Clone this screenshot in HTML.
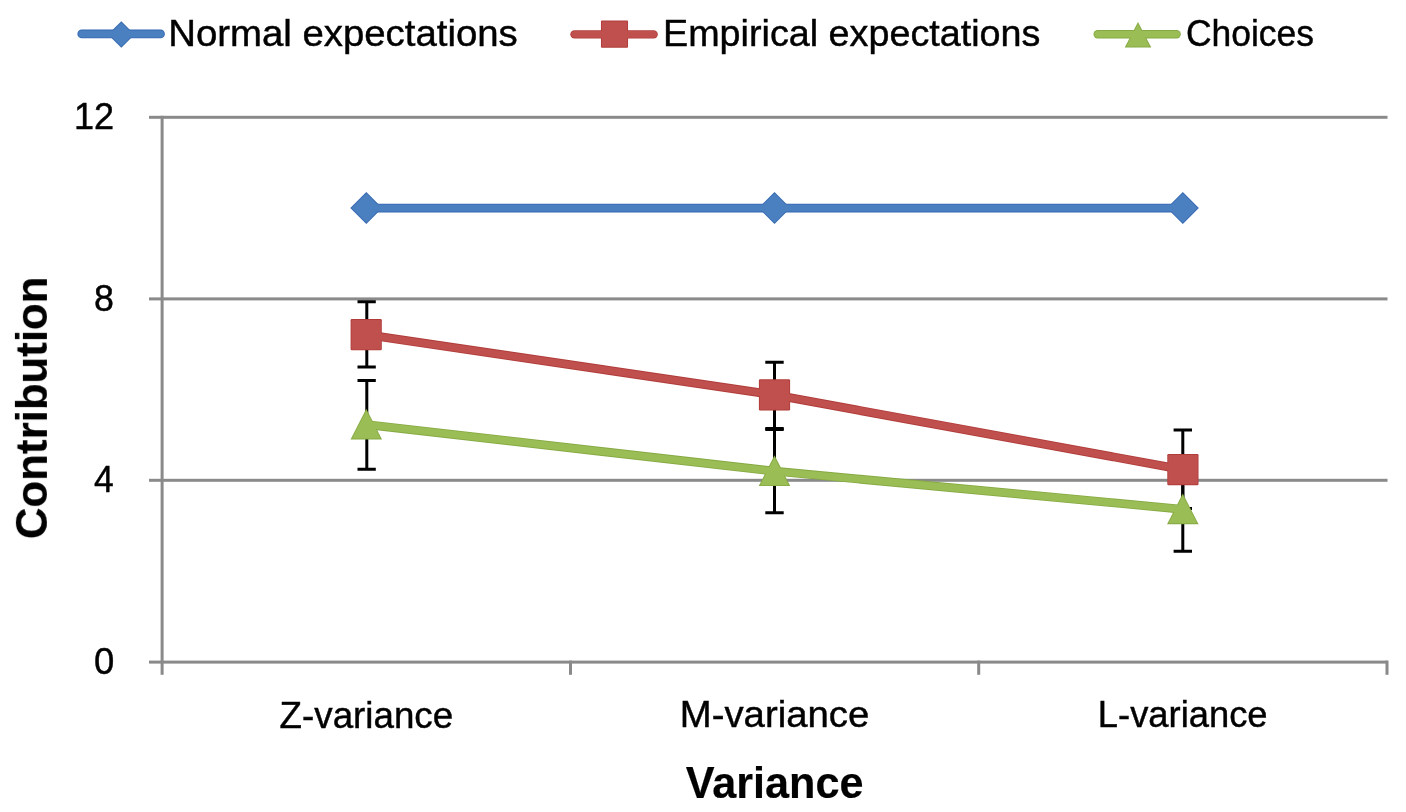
<!DOCTYPE html>
<html><head><meta charset="utf-8">
<style>
html,body{margin:0;padding:0;background:#fff;}
body{width:1406px;height:812px;overflow:hidden;}
svg{display:block;}
.t{opacity:0.999;}
text{font-family:"Liberation Sans",sans-serif;fill:#000;stroke:#000;stroke-width:0.45px;}
text[font-weight="bold"]{stroke-width:0.2px;}
</style></head><body>
<svg width="1406" height="812" viewBox="0 0 1406 812">
<rect x="0" y="0" width="1406" height="812" fill="#fff"/>
<!-- legend -->
<line x1="81.8" y1="33.9" x2="160.5" y2="33.9" stroke="#3567b2" stroke-width="8.8" stroke-linecap="round"/><g fill="#3567b2"><polygon points="121.30,21.20 134.60,34.50 121.30,47.80 108.00,34.50"/></g><line x1="81.8" y1="33.9" x2="160.5" y2="33.9" stroke="#4a80c0" stroke-width="7.00" stroke-linecap="round"/><g fill="#4a80c0"><polygon points="121.30,22.47 133.33,34.50 121.30,46.53 109.27,34.50"/></g>
<line x1="574.5" y1="34.4" x2="653.6" y2="34.4" stroke="#b03c3a" stroke-width="8.4" stroke-linecap="round"/><g fill="#b03c3a"><rect x="600.95" y="20.50" width="27.1" height="27.2" rx="1"/></g><line x1="574.5" y1="34.4" x2="653.6" y2="34.4" stroke="#c0504d" stroke-width="6.60" stroke-linecap="round"/><g fill="#c0504d"><rect x="601.85" y="21.40" width="25.30" height="25.40" rx="0.5"/></g>
<line x1="1097.7" y1="34.3" x2="1176.6" y2="34.3" stroke="#86a943" stroke-width="8.4" stroke-linecap="round"/><g fill="#86a943"><polygon points="1138.00,22.00 1151.25,47.50 1124.75,47.50"/></g><line x1="1097.7" y1="34.3" x2="1176.6" y2="34.3" stroke="#9bbd55" stroke-width="6.60" stroke-linecap="round"/><g fill="#9bbd55"><polygon points="1138.00,23.80 1149.63,46.60 1126.37,46.60"/></g>

<!-- grid -->
<g fill="#8a8a8a">
  <rect x="149" y="115.8" width="1238.5" height="3"/>
  <rect x="149" y="297.4" width="1238.5" height="3"/>
  <rect x="149" y="478.8" width="1238.5" height="3"/>
  <rect x="149" y="660.6" width="1238.5" height="3"/>
  <rect x="160.6" y="115.8" width="3" height="559"/>
  <rect x="569" y="660.6" width="3" height="14.2"/>
  <rect x="977.2" y="660.6" width="3" height="14.2"/>
  <rect x="1385.5" y="660.6" width="3" height="14.2"/>
</g>
<g class="t"><text x="168.20" y="45.90" font-size="36.5" textLength="349.60" lengthAdjust="spacingAndGlyphs">Normal expectations</text>
<text x="663.00" y="45.90" font-size="36.5" textLength="377.40" lengthAdjust="spacingAndGlyphs">Empirical expectations</text>
<text x="1186.00" y="45.90" font-size="36.5" textLength="128.00" lengthAdjust="spacingAndGlyphs">Choices</text>
<text x="73.90" y="129.10" font-size="37" textLength="40.10" lengthAdjust="spacingAndGlyphs">12</text>
<text x="94.10" y="311.00" font-size="37" textLength="19.90" lengthAdjust="spacingAndGlyphs">8</text>
<text x="94.00" y="492.00" font-size="37" textLength="19.70" lengthAdjust="spacingAndGlyphs">4</text>
<text x="94.00" y="674.00" font-size="37" textLength="20.30" lengthAdjust="spacingAndGlyphs">0</text>
<text x="279.60" y="727.60" font-size="37" textLength="173.60" lengthAdjust="spacingAndGlyphs">Z-variance</text>
<text x="679.80" y="727.40" font-size="37" textLength="189.40" lengthAdjust="spacingAndGlyphs">M-variance</text>
<text x="1097.80" y="727.40" font-size="37" textLength="169.80" lengthAdjust="spacingAndGlyphs">L-variance</text>
<text x="685.70" y="797.80" font-size="45" font-weight="bold" textLength="177.80" lengthAdjust="spacingAndGlyphs">Variance</text>
<text transform="translate(46.90,539.10) rotate(-90)" font-size="45" font-weight="bold" textLength="262.60" lengthAdjust="spacingAndGlyphs">Contribution</text></g>
<!-- error bars -->
<g stroke="#000" stroke-width="3" fill="none">
  <path d="M366.8,301.7 V367 M357.5,301.7 H375.8 M357.5,367 H375.8"/>
  <path d="M774.5,362.2 V428.5 M765.3,362.2 H783.7 M765.3,428.5 H783.7"/>
  <path d="M1182.8,430.1 V508.4 M1173.6,430.1 H1192 M1173.6,508.4 H1192"/>
  <path d="M366.8,380.5 V469.2 M357.5,380.5 H375.8 M357.5,469.2 H375.8"/>
  <path d="M774.5,429.4 V512.8 M765.3,429.4 H783.7 M765.3,512.8 H783.7"/>
  <path d="M1182.8,470 V551.3 M1173.6,470 H1192 M1173.6,551.3 H1192"/>
</g>
<g><polyline points="366.30,208.10 774.50,208.10 1182.80,208.10" fill="none" stroke="#3567b2" stroke-width="8.8" stroke-linejoin="round"/><g fill="#3567b2" stroke="#3567b2" stroke-width="0.01" stroke-linejoin="round"><polygon points="366.30,192.10 382.30,208.10 366.30,224.10 350.30,208.10"/><polygon points="774.50,192.10 790.50,208.10 774.50,224.10 758.50,208.10"/><polygon points="1182.80,192.10 1198.80,208.10 1182.80,224.10 1166.80,208.10"/></g><polyline points="366.30,208.10 774.50,208.10 1182.80,208.10" fill="none" stroke="#4a80c0" stroke-width="7.00" stroke-linejoin="round"/><g fill="#4a80c0" stroke="#3567b2" stroke-width="0"><polygon points="366.30,193.37 381.03,208.10 366.30,222.83 351.57,208.10"/><polygon points="774.50,193.37 789.23,208.10 774.50,222.83 759.77,208.10"/><polygon points="1182.80,193.37 1197.53,208.10 1182.80,222.83 1168.07,208.10"/></g></g>
<g><polyline points="366.20,334.70 774.50,394.90 1182.90,469.60" fill="none" stroke="#b03c3a" stroke-width="8.8" stroke-linejoin="round"/><g fill="#b03c3a" stroke="#b03c3a" stroke-width="0.01" stroke-linejoin="round"><rect x="350.60" y="319.10" width="31.20" height="31.20" rx="1.2"/><rect x="758.90" y="379.30" width="31.20" height="31.20" rx="1.2"/><rect x="1167.30" y="454.00" width="31.20" height="31.20" rx="1.2"/></g><polyline points="366.20,334.70 774.50,394.90 1182.90,469.60" fill="none" stroke="#c0504d" stroke-width="7.00" stroke-linejoin="round"/><g fill="#c0504d" stroke="#b03c3a" stroke-width="0"><rect x="351.50" y="320.00" width="29.40" height="29.40" rx="0.6"/><rect x="759.80" y="380.20" width="29.40" height="29.40" rx="0.6"/><rect x="1168.20" y="454.90" width="29.40" height="29.40" rx="0.6"/></g></g>
<g><polyline points="366.30,424.60 774.50,471.20 1182.80,509.30" fill="none" stroke="#86a943" stroke-width="8.8" stroke-linejoin="round"/><g fill="#86a943" stroke="#86a943" stroke-width="0.01" stroke-linejoin="round"><polygon points="366.30,408.70 382.05,439.50 350.55,439.50"/><polygon points="774.50,455.30 790.25,486.10 758.75,486.10"/><polygon points="1182.80,493.40 1198.55,524.20 1167.05,524.20"/></g><polyline points="366.30,424.60 774.50,471.20 1182.80,509.30" fill="none" stroke="#9bbd55" stroke-width="7.00" stroke-linejoin="round"/><g fill="#9bbd55" stroke="#86a943" stroke-width="0"><polygon points="366.30,410.68 380.58,438.60 352.02,438.60"/><polygon points="774.50,457.28 788.78,485.20 760.22,485.20"/><polygon points="1182.80,495.38 1197.08,523.30 1168.52,523.30"/></g></g>
</svg>
</body></html>
